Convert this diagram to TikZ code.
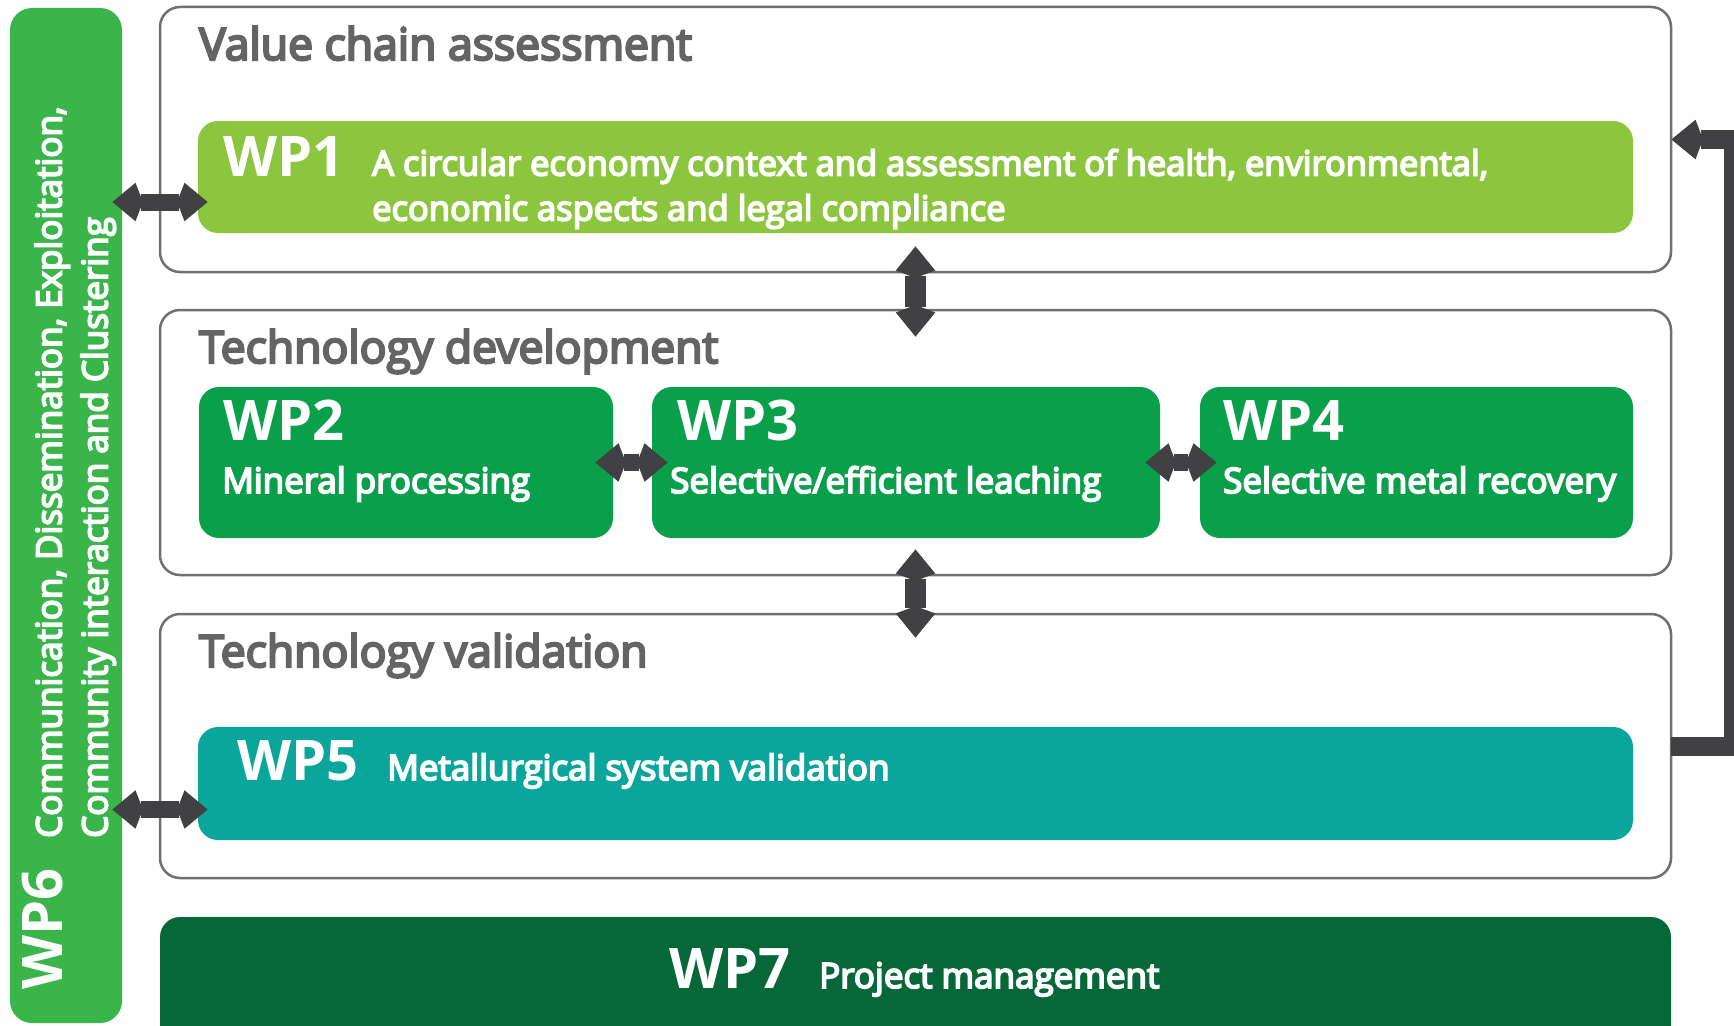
\documentclass[tikz,border=0pt]{standalone}
\usepackage{fontspec}
\setmainfont{Open Sans}
\newfontfamily\semib{Open Sans}[FakeBold=5]
\usetikzlibrary{arrows.meta,calc}
\definecolor{wpsix}{RGB}{57,181,74}
\definecolor{wpone}{RGB}{140,198,63}
\definecolor{wpmid}{RGB}{10,160,75}
\definecolor{wpfive}{RGB}{10,166,156}
\definecolor{wpseven}{RGB}{6,104,57}
\definecolor{arrowc}{RGB}{65,64,66}
\definecolor{bordc}{RGB}{112,112,114}
\definecolor{titlec}{RGB}{99,100,102}
\begin{document}
\begin{tikzpicture}[x=1pt,y=-1pt,
  container/.style={draw=bordc, line width=2.5pt, rounded corners=20pt, fill=white, anchor=north west, inner sep=0pt, outer sep=0pt},
  wpbox/.style={rounded corners=20pt, anchor=north west, inner sep=0pt, outer sep=0pt},
  titletext/.style={anchor=base west, inner sep=0pt, text=titlec, font=\semib\fontsize{44.5}{54}\selectfont},
  wpnum/.style={anchor=base west, inner sep=0pt, text=white, font=\bfseries\fontsize{56}{60}\selectfont},
  desc/.style={anchor=base west, inner sep=0pt, text=white, font=\semib\fontsize{35}{44}\selectfont, align=left},
  dblh/.style={draw=arrowc, line width=17pt, {Stealth[length=23pt,width=35pt,inset=-8pt]}-{Stealth[length=23pt,width=35pt,inset=-8pt]}},
  dblv/.style={draw=arrowc, line width=21pt, {Stealth[length=24pt,width=36pt,inset=-8pt]}-{Stealth[length=24pt,width=36pt,inset=-8pt]}},
  fb/.style={draw=arrowc, line width=19pt, line join=miter, -{Stealth[length=24pt,width=36pt,inset=-8pt]}}
]
\useasboundingbox (0,0) rectangle (1734,1025);
\fill[white] (0,0) rectangle (1734,1025);

% boxes
\node[wpbox, fill=wpsix, minimum width=112pt, minimum height=1015pt, rounded corners=22pt] (wp6) at (10,8) {};
\node[container, minimum width=1511pt, minimum height=265pt] (valbox) at (160,7) {};
\node[container, minimum width=1511pt, minimum height=265pt] (techdev) at (160,310) {};
\node[container, minimum width=1511pt, minimum height=264pt] (techval) at (160,614) {};
\node[wpbox, fill=wpseven, minimum width=1511pt, minimum height=160pt] (wp7) at (160,917) {};
\node[wpbox, fill=wpone, minimum width=1435pt, minimum height=112pt] (wp1) at (198,121) {};
\node[wpbox, fill=wpmid, minimum width=414pt, minimum height=151pt] (wp2) at (199,387) {};
\node[wpbox, fill=wpmid, minimum width=508pt, minimum height=151pt] (wp3) at (652,387) {};
\node[wpbox, fill=wpmid, minimum width=433pt, minimum height=151pt] (wp4) at (1200,387) {};
\node[wpbox, fill=wpfive, minimum width=1435pt, minimum height=113pt] (wp5) at (198,727) {};

% texts
\node[titletext] (t1) at (199,60) {Value chain assessment};
\node[titletext] (t2) at (199,363) {Technology development};
\node[titletext] (t3) at (199,667) {Technology validation};
\node[wpnum] (n1) at (223,176) {WP1};
\node[desc, anchor=south west, font=\semib\fontsize{34.5}{45}\selectfont] (d1) at (372,229) {A circular economy context and assessment of health, environmental,\\economic aspects and legal compliance};
\node[wpnum] (n2) at (223,440) {WP2};
\node[desc] (d2) at (222,493) {Mineral processing};
\node[wpnum] (n3) at (677,440) {WP3};
\node[desc] (d3) at (670,493) {Selective/efficient leaching};
\node[wpnum] (n4) at (1223,440) {WP4};
\node[desc] (d4) at (1223,493) {Selective metal recovery};
\node[wpnum] (n5) at (237,780) {WP5};
\node[desc] (d5) at (387,780) {Metallurgical system validation};
\node[wpnum] (n7) at (669,988) {WP7};
\node[desc] (d7) at (819,988) {Project management};
\node[wpnum, rotate=90] (n6) at (62,990) {WP6};
\node[desc, rotate=90, anchor=south west, font=\semib\fontsize{35}{46}\selectfont] (d6) at (116,838) {Communication, Dissemination, Exploitation,\\Community interaction and Clustering};

% connectors
\coordinate (a1) at ([yshift=-25pt]wp1.west);
\coordinate (a5) at ([yshift=-26pt]wp5.west);
\draw[dblh] ([xshift=-10pt]wp6.east |- a1) -- ([xshift=10pt]a1);
\draw[dblh] ([xshift=-10pt]wp6.east |- a5) -- ([xshift=10pt]a5);
\draw[dblh] ([xshift=-18pt]wp2.east) -- ([xshift=16pt]wp3.west);
\draw[dblh] ([xshift=-15pt]wp3.east) -- ([xshift=17pt]wp4.west);
\draw[dblv] ([yshift=26pt]valbox.south) -- ([yshift=-27pt]techdev.north);
\draw[dblv] ([yshift=26pt]techdev.south) -- ([yshift=-24pt]techval.north);
\draw[fb] (techval.east) -- ++(62,0) |- (valbox.east);
\end{tikzpicture}
\end{document}
